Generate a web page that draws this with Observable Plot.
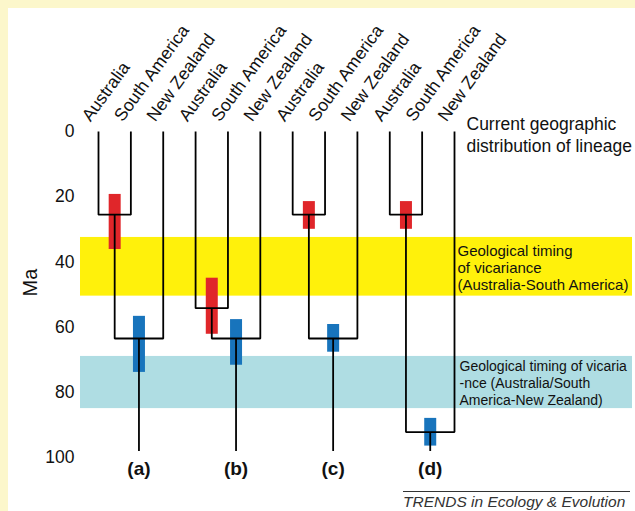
<!DOCTYPE html>
<html>
<head>
<meta charset="utf-8">
<script src="https://cdn.jsdelivr.net/npm/d3@7"></script>
<script src="https://cdn.jsdelivr.net/npm/@observablehq/plot@0.6"></script>
<style>
  html, body { margin: 0; padding: 0; }
  body { width: 635px; height: 511px; overflow: hidden; background: #fcf7cb; position: relative;
         font-family: "Liberation Sans", Arial, Helvetica, sans-serif; }
  #chart { position: absolute; left: 8px; top: 8px; width: 627px; height: 503px; background: #fff; }
  #chart svg { display: block; }
  #credit { position: absolute; left: 403px; top: 491px; width: 227px; border-top: 1.3px solid #333;
            font-style: italic; font-size: 15.5px; line-height: 17px; color: #333; padding-top: 1px; white-space: nowrap; }
</style>
</head>
<body>
<div id="chart"></div>
<div id="credit">TRENDS in Ecology &amp; Evolution</div>
<script>
// ---- data ----
const regions = ["Australia", "South America", "New Zealand"];
const panels = ["(a)", "(b)", "(c)", "(d)"];
const ausSaSplit = [25.5, 54.2, 25.5, 25.5];   // Ma, Australia–South America divergence
const nzSplit = [63.5, 63.5, 63.5, 92.2];      // Ma, divergence from New Zealand
const stemBase = [98, 98, 98, 98];             // Ma, base of stem
const redFrom = [19.3, 45, 21.5, 21.5];
const redTo = [36.2, 62.2, 30, 30];
const blueFrom = [56.7, 57.7, 59.2, 88];
const blueTo = [73.9, 71.7, 67.7, 96.5];
const bandNames = ["Geological timing\nof vicariance\n(Australia-South America)",
                   "Geological timing of vicaria\n-nce (Australia/South\nAmerica-New Zealand)"];
const bandFrom = [32.5, 69];
const bandTo = [50.5, 85];
const bandColors = ["#fff10b", "#afdde3"];
const yTicks = [0, 20, 40, 60, 80, 100];
const noteText = "Current geographic\ndistribution of lineage";

// ---- derived tables ----
const tips = panels.flatMap((p, t) => regions.map((r, j) => ({ x: t * 3 + j, name: r })));
const paths = [];
panels.forEach((p, t) => {
  const b = t * 3, n1 = b + 0.5, n2 = (n1 + b + 2) / 2;
  const s1 = ausSaSplit[t], s2 = nzSplit[t];
  [[b, 0], [b, s1], [b + 1, s1], [b + 1, 0]].forEach(([x, y]) => paths.push({ z: p + "1", x, y }));
  [[n1, s1], [n1, s2], [b + 2, s2], [b + 2, 0]].forEach(([x, y]) => paths.push({ z: p + "2", x, y }));
  [[n2, s2], [n2, stemBase[t]]].forEach(([x, y]) => paths.push({ z: p + "3", x, y }));
});
const redBars = panels.map((p, t) => ({ x: t * 3 + 0.5, y1: redFrom[t], y2: redTo[t] }));
const blueBars = panels.map((p, t) => ({ x: t * 3 + 1.25, y1: blueFrom[t], y2: blueTo[t] }));
const labels = panels.map((p, t) => ({ x: t * 3 + 1.25, y: 100, text: p }));
const bands = bandNames.map((n, i) => ({ name: n, y1: bandFrom[i], y2: bandTo[i], fill: bandColors[i], y: (bandFrom[i] + bandTo[i]) / 2 }));

const font = "Liberation Sans, Arial, Helvetica, sans-serif";
const chart = Plot.plot({
  width: 627,
  height: 503,
  marginLeft: 72,
  marginRight: 3,
  marginTop: 123,
  marginBottom: 54,
  style: { fontFamily: font, background: "transparent", overflow: "visible" },
  x: { domain: [0, 11], range: [90, 446], axis: null },
  y: { domain: [0, 100], range: [123, 449], axis: null },
  marks: [
    Plot.rect(bands, { y1: "y1", y2: "y2", fill: "fill" }),
    Plot.text(bands.slice(0, 1), { text: "name", x: () => 11, y: "y", textAnchor: "start", dx: 3, dy: 1, fontSize: 15, lineHeight: 1.13, fill: "#111" }),
    Plot.text(bands.slice(1), { text: "name", x: () => 11, y: "y", textAnchor: "start", dx: 5, dy: 0, fontSize: 14, lineHeight: 1.21, fill: "#111" }),
    Plot.axisY({ ticks: yTicks, tickSize: 0, tickPadding: 6, fontSize: 17.5, label: null, line: true, stroke: "#000", strokeWidth: 1.8, fill: "#111" }),
    Plot.text(["Ma"], { frameAnchor: "left", text: d => d, rotate: -90, dx: -50, dy: 2, fontSize: 20, fill: "#111" }),
    Plot.ruleX(redBars, { x: "x", y1: "y1", y2: "y2", stroke: "#e0262a", strokeWidth: 12 }),
    Plot.ruleX(blueBars, { x: "x", y1: "y1", y2: "y2", stroke: "#1874bc", strokeWidth: 12 }),
    Plot.line(paths, { x: "x", y: "y", z: "z", stroke: "#000", strokeWidth: 1.8, strokeLinejoin: "miter", strokeLinecap: "butt" }),
    Plot.text(tips, { x: "x", y: () => 0, text: "name", rotate: -54, textAnchor: "start", lineAnchor: "bottom", dx: -8, dy: -9, fontSize: 17.5, fill: "#111" }),
    Plot.text([noteText], { x: () => 11, y: () => 0, text: d => d, textAnchor: "start", dx: 12, dy: 2, fontSize: 17.5, lineHeight: 1.26, fill: "#111" }),
    Plot.text(labels, { x: "x", y: "y", text: "text", dy: 11, fontSize: 19, fontWeight: "bold", fill: "#111" })
  ]
});
document.getElementById("chart").appendChild(chart);
</script>
</body>
</html>
